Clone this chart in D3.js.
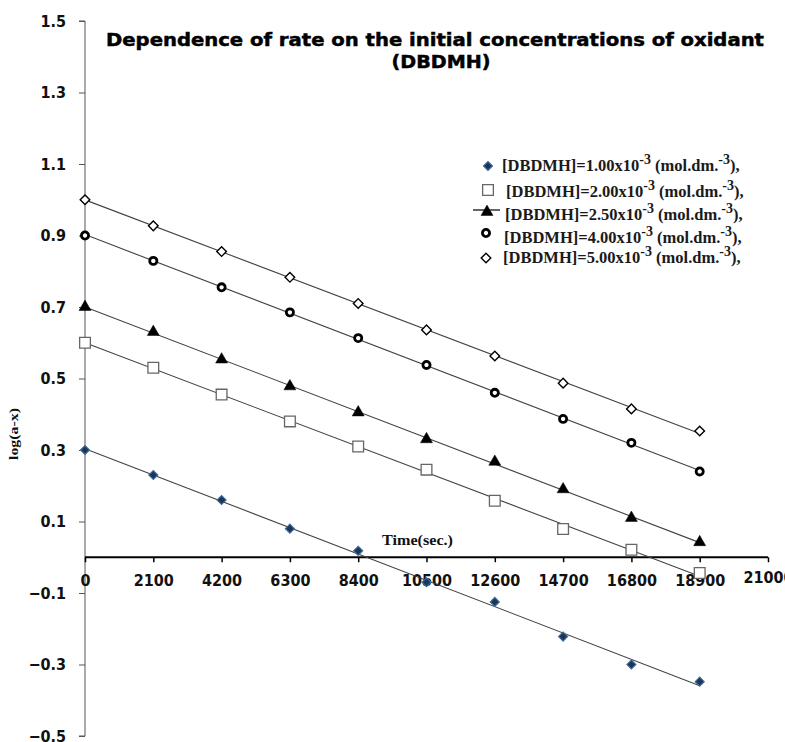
<!DOCTYPE html>
<html>
<head>
<meta charset="utf-8">
<script src="https://cdn.jsdelivr.net/npm/d3@7"></script>
<style>
  body { margin: 0; background: #fff; }
  svg { display: block; }
</style>
</head>
<body>
<div id="viz"></div>
<script>
// time points (sec.)
const times = [0, 2100, 4200, 6300, 8400, 10500, 12600, 14700, 16800, 18900];
// log(a-x) for each [DBDMH]
const conc = ["1.00", "2.00", "2.50", "4.00", "5.00"];
const s1 = [0.30, 0.23, 0.16, 0.08, 0.018, -0.07, -0.125, -0.222, -0.30, -0.348];
const s2 = [0.60, 0.53, 0.455, 0.38, 0.31, 0.245, 0.158, 0.079, 0.021, -0.044];
const s3 = [0.70, 0.63, 0.553, 0.478, 0.405, 0.33, 0.267, 0.19, 0.11, 0.042];
const s4 = [0.90, 0.829, 0.755, 0.685, 0.613, 0.538, 0.46, 0.387, 0.32, 0.24];
const s5 = [1.00, 0.927, 0.855, 0.783, 0.71, 0.636, 0.563, 0.487, 0.415, 0.353];
const xTicks = [0, 2100, 4200, 6300, 8400, 10500, 12600, 14700, 16800, 18900, 21000];
const yTicks = [-0.5, -0.3, -0.1, 0.1, 0.3, 0.5, 0.7, 0.9, 1.1, 1.3, 1.5];

const series = [s1, s2, s3, s4, s5];

const W = 785, H = 742;
const svg = d3.select("#viz").append("svg")
  .attr("width", W)
  .attr("height", H);

const x = d3.scaleLinear().domain([0, 21000]).range([85, 768]);
const y = d3.scaleLinear().domain([-0.5, 1.5]).range([736, 21]);

const tickFont = "'DejaVu Sans Condensed', 'DejaVu Sans', sans-serif";

// y axis
const yAxis = svg.append("g")
  .attr("transform", `translate(${x(0)},0)`)
  .call(d3.axisLeft(y).tickValues(yTicks).tickSize(6).tickPadding(13)
    .tickFormat(d3.format(".1f")));
yAxis.select(".domain").attr("stroke", "#555").attr("d", `M-6,${y(1.5)}H0V${y(-0.5)}H-6`);
yAxis.selectAll(".tick line").attr("stroke", "#555");
yAxis.selectAll(".tick text")
  .style("font-family", tickFont).style("font-weight", "bold")
  .style("font-size", "16px").attr("fill", "#111");

// x axis through y = 0
const xAxis = svg.append("g")
  .attr("transform", `translate(0,${y(0)})`)
  .call(d3.axisBottom(x).tickValues(xTicks).tickSize(5).tickPadding(14)
    .tickFormat(d3.format("d")));
xAxis.select(".domain").attr("stroke", "#000").attr("stroke-width", 2.2)
  .attr("d", `M${x(0)},0H${x(21000)}`);
xAxis.selectAll(".tick line").attr("stroke", "#000").attr("stroke-width", 1.5);
xAxis.selectAll(".tick text")
  .style("font-family", tickFont).style("font-weight", "bold")
  .style("font-size", "16px").attr("fill", "#111")
  .attr("dy", (d) => d === 21000 ? "0.45em" : "0.6em");

// linear fit lines
function fit(vals) {
  const mx = d3.mean(times), my = d3.mean(vals);
  const b = d3.sum(times, (t, i) => (t - mx) * (vals[i] - my)) /
            d3.sum(times, (t) => (t - mx) * (t - mx));
  return [b, my - b * mx];
}
series.forEach((vals) => {
  const [b, a] = fit(vals);
  const t0 = times[0], t1 = times[times.length - 1];
  svg.append("line")
    .attr("x1", x(t0)).attr("y1", y(a + b * t0))
    .attr("x2", x(t1)).attr("y2", y(a + b * t1))
    .attr("stroke", "#444").attr("stroke-width", 1.1);
});

// markers
const markerStyles = [
  { shape: "diamond", size: 40, fill: "#1d3557", stroke: "#3d6a9a", sw: 1.2 },
  { shape: "square", size: 115, fill: "#fff", stroke: "#666", sw: 1.3 },
  { shape: "triangle", size: 62, fill: "#000", stroke: "#000", sw: 0.5 },
  { shape: "circle", size: 40, fill: "#fff", stroke: "#000", sw: 2.8 },
  { shape: "diamond", size: 46, fill: "#fff", stroke: "#000", sw: 1.4 }
];

function markerPath(st) {
  if (st.shape === "diamond") return d3.symbol(d3.symbolSquare, st.size)();
  if (st.shape === "square") return d3.symbol(d3.symbolSquare, st.size)();
  if (st.shape === "triangle") return d3.symbol(d3.symbolTriangle, st.size)();
  return d3.symbol(d3.symbolCircle, st.size)();
}
function drawMarker(g, st, cx, cy) {
  g.append("path")
    .attr("d", markerPath(st))
    .attr("transform", `translate(${cx},${cy})` + (st.shape === "diamond" ? " rotate(45)" : ""))
    .attr("fill", st.fill).attr("stroke", st.stroke).attr("stroke-width", st.sw);
}

series.forEach((vals, si) => {
  const g = svg.append("g");
  vals.forEach((v, i) => drawMarker(g, markerStyles[si], x(times[i]), y(v)));
});

// title
svg.append("text")
  .attr("x", 106).attr("y", 46)
  .attr("textLength", 658).attr("lengthAdjust", "spacingAndGlyphs")
  .style("font-family", "'DejaVu Sans', sans-serif").style("font-weight", "bold")
  .style("font-size", "18px").attr("fill", "#000")
  .attr("stroke", "#000").attr("stroke-width", 0.5)
  .text("Dependence of rate on the initial concentrations of oxidant");
svg.append("text")
  .attr("x", 441).attr("y", 68).attr("text-anchor", "middle")
  .attr("textLength", 99).attr("lengthAdjust", "spacingAndGlyphs")
  .style("font-family", "'DejaVu Sans', sans-serif").style("font-weight", "bold")
  .style("font-size", "18px").attr("fill", "#000")
  .attr("stroke", "#000").attr("stroke-width", 0.5)
  .text("(DBDMH)");

// axis titles
svg.append("text")
  .attr("transform", "translate(18,434) rotate(-90)")
  .attr("text-anchor", "middle")
  .attr("textLength", 52).attr("lengthAdjust", "spacingAndGlyphs")
  .style("font-family", "'Liberation Serif', serif").style("font-weight", "bold")
  .style("font-size", "12.5px").attr("fill", "#111")
  .text("log(a-x)");
svg.append("text")
  .attr("x", 382).attr("y", 545)
  .attr("textLength", 71).attr("lengthAdjust", "spacingAndGlyphs")
  .style("font-family", "'Liberation Serif', serif").style("font-weight", "bold")
  .style("font-size", "15px").attr("fill", "#111")
  .text("Time(sec.)");

// legend
const legendMarkerX = [488, 488, 487, 486, 486];
const legendMarkerY = [166, 190, 212, 233, 258];
const legendTextX = [502, 506, 505, 504, 503];
const legendTextY = [171, 197, 220, 243, 263];
const legend = svg.append("g");
conc.forEach((c, i) => {
  if (i === 2) {
    legend.append("line")
      .attr("x1", 473).attr("x2", 500)
      .attr("y1", legendMarkerY[i] - 2).attr("y2", legendMarkerY[i] - 2)
      .attr("stroke", "#000").attr("stroke-width", 1.2);
  }
  drawMarker(legend, markerStyles[i], legendMarkerX[i], legendMarkerY[i]);
  const t = legend.append("text")
    .attr("x", legendTextX[i]).attr("y", legendTextY[i])
    .style("font-family", "'Liberation Serif', serif").style("font-weight", "bold")
    .style("font-size", "16.5px").attr("fill", "#1a1a1a");
  t.append("tspan").text(`[DBDMH]=${c}x10`);
  t.append("tspan").attr("dy", -7).style("font-size", "14px").text("-3");
  t.append("tspan").attr("dy", 7).text(" (mol.dm.");
  t.append("tspan").attr("dy", -7).style("font-size", "14px").text("-3");
  t.append("tspan").attr("dy", 7).text("),");
});
</script>
</body>
</html>
